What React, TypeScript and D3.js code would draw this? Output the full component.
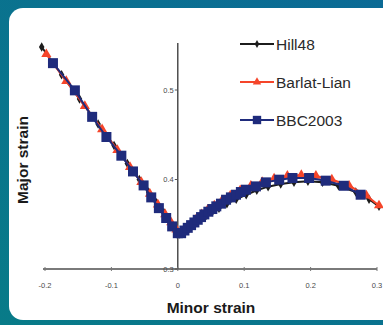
import * as d3 from "d3";

const W = 383;
const H = 325;

// Hill48
const hillX = [-0.205, -0.175, -0.148, -0.12, -0.096, -0.076, -0.058, -0.044, -0.032, -0.021, -0.012, -0.004, 0.003, 0.01, 0.018, 0.026, 0.034, 0.043, 0.052, 0.062, 0.074, 0.088, 0.103, 0.119, 0.136, 0.155, 0.175, 0.196, 0.218, 0.242, 0.268, 0.288, 0.303];
const hillY = [0.548, 0.517, 0.49, 0.462, 0.438, 0.418, 0.4, 0.386, 0.374, 0.363, 0.354, 0.345, 0.339, 0.342, 0.346, 0.351, 0.356, 0.36, 0.364, 0.368, 0.373, 0.378, 0.383, 0.388, 0.392, 0.395, 0.397, 0.398, 0.397, 0.393, 0.386, 0.378, 0.37];

// Barlat-Lian
const barlatX = [-0.198, -0.168, -0.14, -0.114, -0.091, -0.072, -0.055, -0.042, -0.03, -0.019, -0.01, -0.002, 0.004, 0.011, 0.019, 0.027, 0.036, 0.045, 0.055, 0.066, 0.079, 0.094, 0.11, 0.127, 0.145, 0.165, 0.186, 0.208, 0.232, 0.258, 0.284, 0.303];
const barlatY = [0.54, 0.51, 0.482, 0.456, 0.433, 0.414, 0.397, 0.384, 0.372, 0.361, 0.352, 0.344, 0.34, 0.344, 0.349, 0.355, 0.361, 0.366, 0.371, 0.376, 0.382, 0.388, 0.393, 0.397, 0.401, 0.404, 0.405, 0.404, 0.4, 0.393, 0.382, 0.371];

// BBC2003
const bbcX = [-0.188, -0.155, -0.129, -0.1075, -0.085, -0.0675, -0.0515, -0.04, -0.0285, -0.0175, -0.0085, 0.0, 0.005, 0.01, 0.015, 0.02, 0.025, 0.03, 0.035, 0.04, 0.046, 0.052, 0.058, 0.065, 0.0727, 0.08, 0.0877, 0.095, 0.1027, 0.1177, 0.1327, 0.1527, 0.1727, 0.1977, 0.2228, 0.25, 0.2754];
const bbcY = [0.53, 0.4996, 0.47, 0.4475, 0.4266, 0.409, 0.3934, 0.38, 0.368, 0.357, 0.3476, 0.34, 0.34, 0.343, 0.346, 0.349, 0.352, 0.355, 0.358, 0.361, 0.364, 0.367, 0.37, 0.373, 0.3774, 0.38, 0.383, 0.386, 0.3886, 0.3923, 0.3968, 0.3998, 0.4017, 0.4017, 0.3987, 0.393, 0.383];

const xTicks = [-0.2, -0.1, 0, 0.1, 0.2, 0.3];
const xTickLabels = ["-0.2", "-0.1", "0", "0.1", "0.2", "0.3"];
const yTicks = [0.3, 0.4, 0.5];
const yTickLabels = ["0.3", "0.4", "0.5"];

const seriesNames = ["Hill48", "Barlat-Lian", "BBC2003"];

const x = d3.scaleLinear().domain([-0.2, 0.3]).range([45, 377]);
const y = d3.scaleLinear().domain([0.3, 0.5]).range([269, 90]);

const line = d3
  .line<[number, number]>()
  .x((d) => x(d[0]))
  .y((d) => y(d[1]));

const zip = (a: number[], b: number[]): [number, number][] => a.map((v, i) => [v, b[i]]);

const series = [
  { name: seriesNames[0], pts: zip(hillX, hillY), color: "#1c1c1c", sym: d3.symbolDiamond, size: 26 },
  { name: seriesNames[1], pts: zip(barlatX, barlatY), color: "#f5452a", sym: d3.symbolTriangle, size: 44 },
  { name: seriesNames[2], pts: zip(bbcX, bbcY), color: "#1f2b7c", sym: d3.symbolSquare, size: 100 },
];

const legendY = [44, 82, 120];

export default function App() {
  return (
    <svg width={W} height={H} style={{ position: "absolute", left: 0, top: 0 }} fontFamily="Arial, 'Liberation Sans', sans-serif">
      <defs>
        <linearGradient id="bg" x1="0" y1="1" x2="1" y2="0">
          <stop offset="0" stopColor="#087b88" />
          <stop offset="1" stopColor="#0b6a95" />
        </linearGradient>
      </defs>
      <rect width={W} height={H} fill="url(#bg)" />
      <rect x={9} y={8} width={390} height={312} rx={14} fill="#fff" />

      {/* axes */}
      <line x1={x(-0.2) - 2} x2={x(0.3)} y1={y(0.3)} y2={y(0.3)} stroke="#7a7a7a" strokeWidth={2} />
      <line x1={x(0)} x2={x(0)} y1={y(0.3)} y2={43} stroke="#333" strokeWidth={1.3} />
      {xTicks.map((t, i) => (
        <g key={t}>
          <line x1={x(t)} x2={x(t)} y1={y(0.3) - 2} y2={y(0.3) + 2} stroke="#777" />
          <text x={x(t)} y={288} fontSize={7.5} fill="#4a4a4a" textAnchor="middle">
            {xTickLabels[i]}
          </text>
        </g>
      ))}
      {yTicks.map((t, i) => (
        <g key={t}>
          <line x1={x(0) - 3} x2={x(0)} y1={y(t)} y2={y(t)} stroke="#555" />
          <text x={x(0) - 4} y={y(t) + 2.6} fontSize={7.5} fill="#4a4a4a" textAnchor="end">
            {yTickLabels[i]}
          </text>
        </g>
      ))}

      {/* series */}
      {series.map((s) => (
        <g key={s.name}>
          <path d={line(s.pts) ?? ""} fill="none" stroke={s.color} strokeWidth={2} />
          {s.pts.map((p, i) => (
            <path
              key={i}
              transform={`translate(${x(p[0])},${y(p[1])})`}
              d={d3.symbol().type(s.sym).size(s.size)() ?? ""}
              fill={s.color}
            />
          ))}
        </g>
      ))}

      {/* legend */}
      {series.map((s, i) => (
        <g key={"lg" + s.name}>
          <line x1={240} x2={274} y1={legendY[i]} y2={legendY[i]} stroke={s.color} strokeWidth={2} />
          <path transform={`translate(257,${legendY[i]})`} d={d3.symbol().type(s.sym).size(s.size * 0.7)() ?? ""} fill={s.color} />
          <text x={276} y={legendY[i] + 5.5} fontSize={15.5} fill="#2a2a2a">
            {s.name}
          </text>
        </g>
      ))}

      {/* titles */}
      <text x={211} y={313} fontSize={15.5} fontWeight="bold" textAnchor="middle" fill="#1a1a1a">
        Minor strain
      </text>
      <text transform="translate(28,160) rotate(-90)" fontSize={15.5} fontWeight="bold" textAnchor="middle" fill="#1a1a1a">
        Major strain
      </text>
    </svg>
  );
}
